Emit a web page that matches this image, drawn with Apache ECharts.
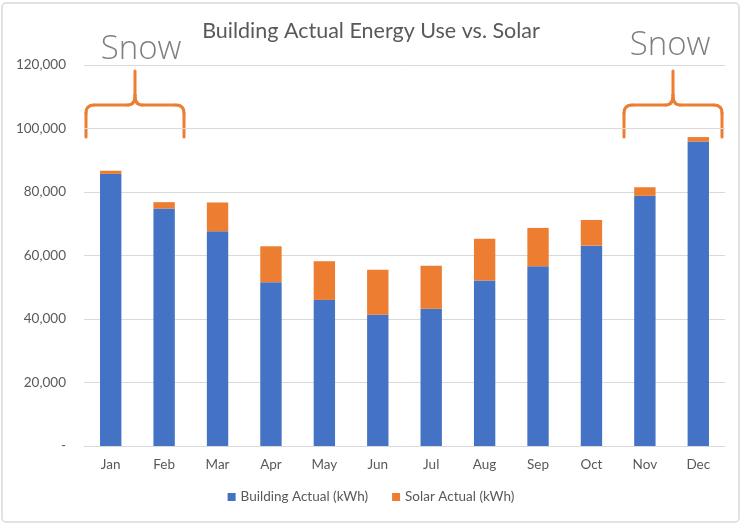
<!DOCTYPE html>
<html>
<head>
<meta charset="utf-8">
<script src="https://cdn.jsdelivr.net/npm/echarts@6/dist/echarts.min.js"></script>
<style>
html, body { margin: 0; padding: 0; background: #fff; }
#myDiv { width: 742px; height: 526px; }
</style>
</head>
<body>
<div id="myDiv"></div>
<script>
// monthly values (kWh)
const months = ['Jan', 'Feb', 'Mar', 'Apr', 'May', 'Jun', 'Jul', 'Aug', 'Sep', 'Oct', 'Nov', 'Dec'];
const buildingActual = [85700, 74800, 67600, 51600, 46000, 41300, 43200, 52100, 56600, 63100, 78800, 95900];
const solarActual = [1000, 2000, 9100, 11300, 12200, 14200, 13600, 13200, 12100, 8100, 2700, 1400];
const yTicks = [0, 20000, 40000, 60000, 80000, 100000, 120000];

let myChart = echarts.init(document.getElementById('myDiv'));

// curly brace made of lines and curves, tip on top
function brace(x0, x1, yTip, yMid, yEnd) {
  const xm = (x0 + x1) / 2;
  const st = { stroke: '#ED7D31', lineWidth: 3, fill: 'none', lineCap: 'round' };
  const line = (a, b, c, d) => ({ type: 'line', shape: { x1: a, y1: b, x2: c, y2: d }, style: st, silent: true });
  const curve = (a, b, cx, cy, c, d) => ({ type: 'bezierCurve', shape: { x1: a, y1: b, cpx1: cx, cpy1: cy, x2: c, y2: d }, style: st, silent: true });
  return [
    line(x0, yEnd, x0, yMid + 8),
    curve(x0, yMid + 8, x0, yMid, x0 + 8, yMid),
    line(x0 + 8, yMid, xm - 7, yMid),
    curve(xm - 7, yMid, xm, yMid, xm, yMid - 10),
    line(xm, yMid - 10, xm, yTip),
    curve(xm, yMid - 10, xm, yMid, xm + 7, yMid),
    line(xm + 7, yMid, x1 - 8, yMid),
    curve(x1 - 8, yMid, x1, yMid, x1, yMid + 8),
    line(x1, yMid + 8, x1, yEnd)
  ];
}

let option = {
  animation: false,
  textStyle: { fontFamily: 'Lato' },
  title: {
    text: 'Building Actual Energy Use vs. Solar',
    left: 'center',
    top: 15,
    textStyle: { color: '#595959', fontSize: 21.5, fontWeight: 'normal', fontFamily: 'Lato' }
  },
  legend: {
    bottom: 17,
    left: 'center',
    itemWidth: 8,
    itemHeight: 8,
    itemGap: 24,
    icon: 'rect',
    textStyle: { color: '#595959', fontSize: 13.5 },
    data: ['Building Actual (kWh)', 'Solar Actual (kWh)']
  },
  grid: { left: 84, right: 17, top: 65, bottom: 80 },
  xAxis: {
    type: 'category',
    data: months,
    axisTick: { show: false },
    axisLine: { lineStyle: { color: '#d9d9d9' } },
    axisLabel: { color: '#595959', fontSize: 13.5, margin: 12 }
  },
  yAxis: {
    type: 'value',
    min: yTicks[0],
    max: yTicks[yTicks.length - 1],
    interval: 20000,
    axisLine: { show: false },
    axisTick: { show: false },
    splitLine: { lineStyle: { color: '#d9d9d9' } },
    axisLabel: {
      color: '#595959',
      fontSize: 13.5,
      margin: 18,
      formatter: v => v === 0 ? '-' : v.toLocaleString('en-US')
    }
  },
  series: [
    {
      name: 'Building Actual (kWh)',
      type: 'bar',
      stack: 'total',
      barWidth: '40%',
      itemStyle: { color: '#4472C4' },
      data: buildingActual
    },
    {
      name: 'Solar Actual (kWh)',
      type: 'bar',
      stack: 'total',
      itemStyle: { color: '#ED7D31' },
      data: solarActual
    }
  ],
  graphic: [
    {
      type: 'rect',
      shape: { x: 2, y: 3, width: 737, height: 519, r: 4 },
      style: { fill: 'none', stroke: '#d9d9d9', lineWidth: 1.5 },
      silent: true
    },
    ...brace(86, 184, 71, 105, 137),
    ...brace(624, 722, 71, 105, 137),
    {
      type: 'text',
      x: 141, y: 50,
      style: { text: 'Snow', fill: '#7f7f7f', fontSize: 33, fontFamily: 'Open Sans', fontWeight: 300, align: 'center', verticalAlign: 'middle' }
    },
    {
      type: 'text',
      x: 670, y: 46,
      style: { text: 'Snow', fill: '#7f7f7f', fontSize: 33, fontFamily: 'Open Sans', fontWeight: 300, align: 'center', verticalAlign: 'middle' }
    }
  ]
};

option && myChart.setOption(option);
</script>
</body>
</html>
